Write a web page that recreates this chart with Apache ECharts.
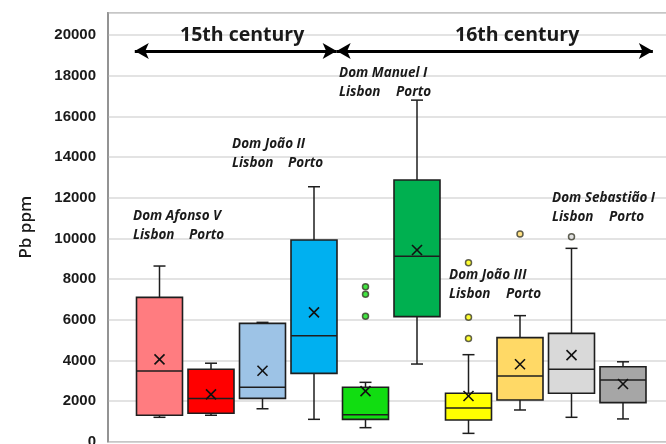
<!DOCTYPE html>
<html><head><meta charset="utf-8">
<script src="https://cdn.jsdelivr.net/npm/echarts@6/dist/echarts.min.js"></script>
<style>html,body{margin:0;padding:0;background:#fff}#c{width:666px;height:444px}</style>
</head><body><div id="c"></div>
<script>
const groups = ['Dom Afonso V Lisbon','Dom Afonso V Porto','Dom João II Lisbon','Dom João II Porto','Dom Manuel I Lisbon','Dom Manuel I Porto','Dom João III Lisbon','Dom João III Porto','Dom Sebastião I Lisbon','Dom Sebastião I Porto'];
const whiskerLow  = [1200, 1300, 1620, 1100,  690,  3820,  410, 1560, 1200, 1120];
const q1          = [1300, 1400, 2130, 3360, 1100,  6150, 1070, 2050, 2380, 1920];
const median      = [3480, 2130, 2680, 5210, 1330,  9120, 1660, 3230, 3560, 3030];
const q3          = [7100, 3560, 5820, 9920, 2680, 12870, 2380, 5120, 5330, 3690];
const whiskerHigh = [8640, 3860, 5870, 12540, 2920, 16800, 4280, 6200, 9510, 3930];
const mean        = [4050, 2330, 3490, 6360, 2490,  9430, 2250, 3810, 4260, 2840];
// outliers: [group index, value]
const outliers = [[4, 7620], [4, 7250], [4, 6170], [6, 8800], [6, 6120], [6, 5070], [7, 10220], [8, 10080]];
const colors = ['#ff7c80','#ff0000','#9dc3e6','#00b0f0','#11dd11','#00b050','#ffff00','#ffd966','#d9d9d9','#a6a6a6'];
const yTicks = [0, 2000, 4000, 6000, 8000, 10000, 12000, 14000, 16000, 18000, 20000];

const boxData = groups.map((g, i) => [i + 1, whiskerLow[i], q1[i], median[i], q3[i], whiskerHigh[i], mean[i], i]);
const outlierData = outliers.map(o => ({value: [o[0] + 1, o[1]], itemStyle: {color: colors[o[0]]}}));

const chart = echarts.init(document.getElementById('c'));
const stroke = '#1e1e1e';
chart.setOption({
  animation: false,
  backgroundColor: '#fff',
  grid: {left: 108, top: 12.7, height: 429, width: 566.5, show: true, borderColor: '#8c8c8c', borderWidth: 1.5,
    outerBoundsMode: 'none', containLabel: false},
  xAxis: {type: 'value', min: 0, max: 11, show: false, splitLine: {show: false}},
  yAxis: {
    type: 'value', min: 0, max: 21100, interval: 2000,
    name: 'Pb ppm', nameLocation: 'middle', nameGap: 73, nameRotate: 90,
    nameTextStyle: {fontFamily: 'Open Sans', fontSize: 17, fontWeight: 600, color: '#1a1a1a'},
    axisLine: {show: true, lineStyle: {color: '#8c8c8c', width: 1.5}},
    axisTick: {show: false},
    axisLabel: {margin: 12, fontFamily: 'Liberation Sans', fontSize: 15, fontWeight: 'bold', color: '#1a1a1a',
      formatter: v => (yTicks.indexOf(v) >= 0 ? String(v) : '')},
    splitLine: {lineStyle: {color: '#dadada', width: 1.5}}
  },
  series: [
    {
      type: 'custom',
      data: boxData,
      z: 3,
      renderItem: function (params, api) {
        const x = api.value(0);
        const idx = api.value(7);
        const bw = api.size([1, 0])[0] * 0.893;
        const hw = bw / 2, cap = 6;
        const pMin = api.coord([x, api.value(1)]);
        const pQ1 = api.coord([x, api.value(2)]);
        const pMed = api.coord([x, api.value(3)]);
        const pQ3 = api.coord([x, api.value(4)]);
        const pMax = api.coord([x, api.value(5)]);
        const pMean = api.coord([x, api.value(6)]);
        const cx = pMin[0];
        const ls = {stroke: stroke, lineWidth: 1.5};
        const m = 5;
        return {type: 'group', children: [
          {type: 'line', shape: {x1: cx, y1: pQ3[1], x2: cx, y2: pMax[1]}, style: ls},
          {type: 'line', shape: {x1: cx, y1: pQ1[1], x2: cx, y2: pMin[1]}, style: ls},
          {type: 'line', shape: {x1: cx - cap, y1: pMax[1], x2: cx + cap, y2: pMax[1]}, style: ls},
          {type: 'line', shape: {x1: cx - cap, y1: pMin[1], x2: cx + cap, y2: pMin[1]}, style: ls},
          {type: 'rect', shape: {x: cx - hw, y: pQ3[1], width: bw, height: pQ1[1] - pQ3[1]},
            style: {fill: colors[idx], stroke: stroke, lineWidth: 1.6}},
          {type: 'line', shape: {x1: cx - hw, y1: pMed[1], x2: cx + hw, y2: pMed[1]}, style: ls},
          {type: 'line', shape: {x1: pMean[0] - m, y1: pMean[1] - m, x2: pMean[0] + m, y2: pMean[1] + m}, style: {stroke: '#111', lineWidth: 1.6}},
          {type: 'line', shape: {x1: pMean[0] - m, y1: pMean[1] + m, x2: pMean[0] + m, y2: pMean[1] - m}, style: {stroke: '#111', lineWidth: 1.6}}
        ]};
      }
    },
    {
      type: 'scatter',
      data: outlierData,
      symbol: 'circle', symbolSize: 6,
      itemStyle: {borderColor: '#3a3a2a', borderWidth: 1.5},
      z: 4,
      markLine: {
        silent: true,
        symbol: ['arrow', 'arrow'], symbolSize: [12, 14],
        label: {show: false},
        lineStyle: {color: '#000', width: 3, type: 'solid'},
        data: [
          [{coord: [0.52, 19215]}, {coord: [4.44, 19215]}],
          [{coord: [4.44, 19215]}, {coord: [10.58, 19215]}]
        ]
      }
    }
  ],
  graphic: (function () {
    const t = (x, y, text, size, style) => ({type: 'text', x: x, y: y, z: 10,
      style: {text: text, fill: '#1a1a1a', font: (style || 'italic bold') + ' ' + size + 'px "Open Sans"', textVerticalAlign: 'middle'}});
    const s = 13.5;
    return [
      t(180, 35, '15th century', 19.5, 'bold'),
      t(455, 35, '16th century', 19.5, 'bold'),
      t(133, 216, 'Dom Afonso V', s), t(133, 235, 'Lisbon', s), t(189, 235, 'Porto', s),
      t(232, 144, 'Dom João II', s), t(232, 163, 'Lisbon', s), t(288, 163, 'Porto', s),
      t(339, 73, 'Dom Manuel I', s), t(339, 92, 'Lisbon', s), t(396, 92, 'Porto', s),
      t(449, 275, 'Dom João III', s), t(449, 294, 'Lisbon', s), t(506, 294, 'Porto', s),
      t(552, 198, 'Dom Sebastião I', s), t(552, 217, 'Lisbon', s), t(609, 217, 'Porto', s)
    ];
  })()
});
</script></body></html>
